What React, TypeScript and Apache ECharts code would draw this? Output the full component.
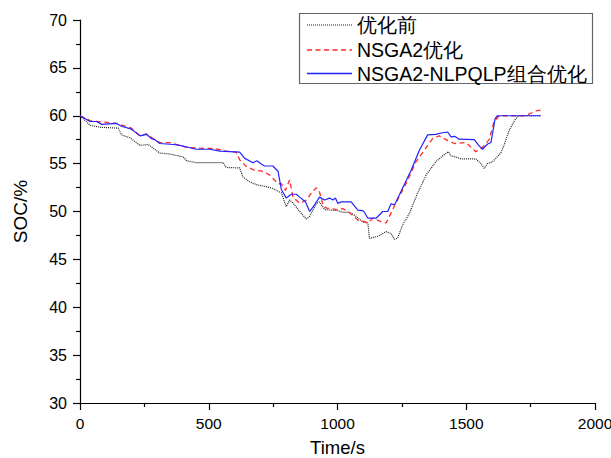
import React, { useEffect, useRef } from "react";
import * as echarts from "echarts";

const seriesNames = ["优化前", "NSGA2优化", "NSGA2-NLPQLP组合优化"];

const beforeData: number[][] = [
  [0, 60], [20, 59.5], [39, 59.0], [78, 58.8], [149, 58.7], [161, 58.0], [194, 57.7], [233, 56.9],
  [265, 57.0], [310, 56.1], [349, 56.0], [401, 55.7], [414, 55.3], [452, 55.1], [556, 55.1],
  [568, 54.6], [620, 54.55], [633, 53.6], [659, 53.1], [685, 52.8], [723, 52.6], [749, 52.4],
  [782, 51.95], [801, 50.5], [814, 51.2], [827, 50.9], [853, 50.0], [879, 49.2], [892, 49.5],
  [918, 50.85], [930, 51.0], [950, 50.2], [998, 50.1], [1024, 49.9], [1049, 49.9], [1072, 49.5],
  [1098, 48.9], [1118, 48.8], [1124, 47.2], [1156, 47.4], [1189, 47.9], [1208, 47.7], [1221, 47.1],
  [1233, 47.2], [1253, 48.6], [1279, 49.8], [1311, 51.9], [1344, 53.8], [1382, 55.2], [1408, 55.8],
  [1431, 56.25], [1441, 55.8], [1460, 55.7], [1479, 55.5], [1537, 55.5], [1557, 55.0], [1570, 54.5],
  [1582, 55.0], [1602, 55.2], [1615, 55.55], [1634, 56.1], [1647, 56.95], [1667, 58.5], [1692, 59.7],
  [1705, 60.0], [1790, 60.0],
];

const nsga2Data: number[][] = [
  [0, 60], [39, 59.5], [65, 59.4], [142, 59.2], [200, 58.7], [233, 57.9], [258, 58.1], [291, 57.5],
  [310, 57.2], [349, 57.2], [414, 56.7], [465, 56.6], [517, 56.6], [568, 56.3], [607, 56.2],
  [620, 55.4], [646, 54.7], [678, 54.3], [711, 54.2], [737, 53.8], [769, 52.9], [782, 52.9],
  [798, 52.2], [814, 53.3], [827, 51.5], [853, 50.85], [879, 51.2], [898, 51.9], [918, 52.5],
  [930, 52.05], [946, 50.5], [959, 50.35], [998, 50.2], [1020, 50.3], [1040, 50.0], [1059, 49.6],
  [1079, 49.1], [1105, 48.95], [1118, 48.8], [1137, 49.3], [1169, 48.95], [1189, 48.8], [1227, 50.9],
  [1266, 52.9], [1305, 55.2], [1337, 56.4], [1370, 57.65], [1395, 57.9], [1428, 57.4], [1454, 57.1],
  [1499, 57.2], [1537, 56.25], [1563, 56.7], [1589, 57.5], [1608, 59.4], [1628, 60.0], [1731, 60.0],
  [1770, 60.5], [1790, 60.6],
];

const combinedData: number[][] = [
  [0, 60], [39, 59.4], [65, 59.4], [84, 59.1], [142, 59.2], [161, 58.9], [200, 58.6], [233, 57.9],
  [258, 58.06], [278, 57.6], [291, 57.5], [310, 57.1], [362, 57.0], [388, 56.9], [452, 56.5],
  [504, 56.5], [543, 56.3], [620, 56.2], [640, 55.55], [672, 55.1], [687, 55.3], [704, 54.96],
  [717, 54.75], [749, 54.75], [769, 54.2], [782, 52.3], [801, 51.4], [821, 51.8], [840, 51.8],
  [853, 51.5], [876, 51.0], [892, 50.0], [911, 50.7], [930, 51.5], [950, 51.2], [969, 51.4],
  [982, 51.2], [992, 51.4], [1001, 50.85], [1014, 51.0], [1053, 51.0], [1079, 50.15], [1098, 50.1],
  [1105, 49.9], [1118, 49.3], [1150, 49.3], [1176, 50.0], [1195, 50.0], [1208, 50.8], [1221, 50.7],
  [1227, 51.0], [1286, 54.3], [1318, 56.4], [1350, 58.0], [1382, 58.05], [1402, 58.2], [1428, 58.3],
  [1441, 57.8], [1455, 57.85], [1473, 57.55], [1531, 57.5], [1550, 56.85], [1563, 56.5], [1583, 57.05],
  [1596, 57.2], [1612, 59.7], [1621, 60.0], [1790, 60.0],
];

const FONT = "'Liberation Sans', Arial, sans-serif";
const COLORS = ["#222222", "#ff2a2a", "#2222ff"];
const DASHES: (number[] | null)[] = [[1, 1], [5, 3.5], null];

export default function App() {
  const ref = useRef<HTMLDivElement>(null);
  useEffect(() => {
    if (!ref.current) return;
    const chart = echarts.init(ref.current, undefined, { renderer: "svg" });
    const axisCommon = {
      axisLine: { show: true, lineStyle: { color: "#000", width: 1.2 } },
      axisTick: { show: true, inside: false, length: 7, lineStyle: { color: "#000", width: 1.2 } },
      minorTick: { show: true, splitNumber: 2, length: 4, lineStyle: { color: "#000", width: 1.2 } },
      splitLine: { show: false },
    };
    const legendRows = [25, 50, 73.5];
    const legendGraphics: any[] = [
      {
        type: "rect",
        shape: { x: 299.5, y: 13.5, width: 293, height: 70 },
        style: { fill: "#fff", stroke: "#666", lineWidth: 1.2 },
        z: 10,
      },
    ];
    seriesNames.forEach((name, i) => {
      legendGraphics.push({
        type: "line",
        shape: { x1: 307, y1: legendRows[i], x2: 352, y2: legendRows[i] },
        style: {
          stroke: COLORS[i],
          lineWidth: i === 0 ? 1.2 : 1.3,
          lineDash: DASHES[i] || undefined,
        },
        z: 11,
      });
      legendGraphics.push({
        type: "text",
        x: 357,
        y: legendRows[i],
        style: {
          text: name,
          fill: "#000",
          font: `19.5px ${FONT}`,
          verticalAlign: "middle",
          align: "left",
        },
        z: 11,
      });
    });
    chart.setOption({
      animation: false,
      backgroundColor: "#fff",
      grid: { left: 80, right: 16, top: 20, bottom: 55, outerBoundsMode: "none", containLabel: false },
      xAxis: {
        type: "value",
        min: 0,
        max: 2000,
        interval: 500,
        name: "Time/s",
        nameLocation: "middle",
        nameGap: 35,
        nameTextStyle: { color: "#000", fontSize: 18.5, fontFamily: FONT },
        ...axisCommon,
        axisLabel: { color: "#000", fontSize: 15.5, fontFamily: FONT, margin: 12, formatter: (v: number) => String(v) },
      },
      yAxis: {
        type: "value",
        min: 30,
        max: 70,
        interval: 5,
        name: "SOC/%",
        nameLocation: "middle",
        nameGap: 50,
        nameTextStyle: { color: "#000", fontSize: 19, fontFamily: FONT },
        ...axisCommon,
        axisLabel: { color: "#000", fontSize: 16, fontFamily: FONT, margin: 13, formatter: (v: number) => String(v) },
      },
      graphic: legendGraphics,
      series: [
        {
          name: seriesNames[0],
          type: "line",
          data: beforeData,
          symbol: "none",
          lineStyle: { color: COLORS[0], width: 1.2, type: DASHES[0] },
        },
        {
          name: seriesNames[1],
          type: "line",
          data: nsga2Data,
          symbol: "none",
          lineStyle: { color: COLORS[1], width: 1.3, type: DASHES[1] },
        },
        {
          name: seriesNames[2],
          type: "line",
          data: combinedData,
          symbol: "none",
          lineStyle: { color: COLORS[2], width: 1.2, type: "solid" },
        },
      ],
    });
    return () => chart.dispose();
  }, []);
  return <div ref={ref} style={{ width: 611, height: 458, position: "absolute", left: 0, top: 0 }} />;
}
